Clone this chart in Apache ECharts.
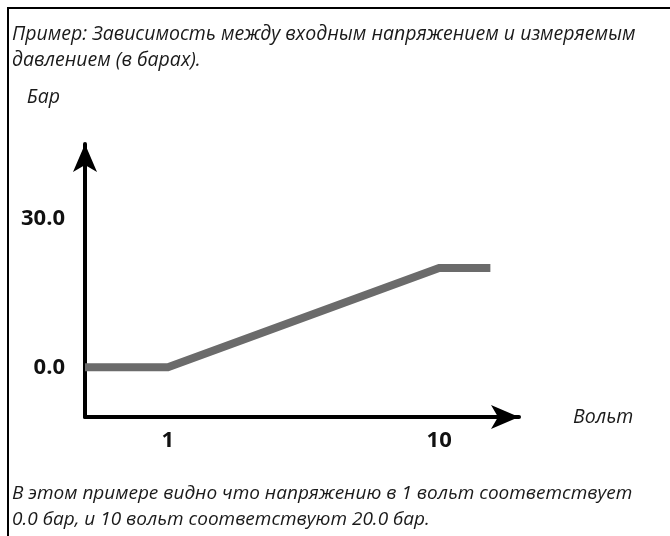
<!DOCTYPE html>
<html>
<head>
<meta charset="utf-8">
<script src="https://cdn.jsdelivr.net/npm/echarts@6/dist/echarts.min.js"></script>
<style>
  html, body { margin: 0; padding: 0; background: #fff; }
  #chart { width: 670px; height: 536px; }
</style>
</head>
<body>
<div id="chart"></div>
<script>
// Input voltage (V) against measured pressure (bar)
const voltage = [-1.75, 1, 10, 11.7];
const pressure = [0, 0, 20, 20];
const xTicks = [1, 10];
const yTicks = [0, 30];

const captionTop = 'Пример: Зависимость между входным напряжением и измеряемым\nдавлением (в барах).';
const captionBottom = 'В этом примере видно что напряжению в 1 вольт соответствует\n0.0 бар, и 10 вольт соответствуют 20.0 бар.';
const xName = 'Вольт';
const yName = 'Бар';

const textFont = 'Open Sans';
const captionStyle = {
  fontFamily: textFont, fontStyle: 'italic', fontWeight: 'normal',
  fontSize: 19.5, lineHeight: 26, color: '#1a1a1a'
};
const tickStyle = {
  fontFamily: textFont, fontWeight: 'bold', fontSize: 22, color: '#111'
};

const chart = echarts.init(document.getElementById('chart'), null, { renderer: 'canvas' });

chart.setOption({
  animation: false,
  backgroundColor: '#fff',
  title: [
    { text: captionTop, left: 12, top: 21, padding: 0, textStyle: captionStyle },
    { text: captionBottom, left: 12, top: 481, padding: 0,
      textStyle: Object.assign({}, captionStyle, { fontSize: 19 }) }
  ],
  graphic: [{
    type: 'rect',
    shape: { x: 8, y: 8, width: 700, height: 600 },
    style: { fill: 'none', stroke: '#000', lineWidth: 2 },
    silent: true
  }],
  grid: { left: 85, top: 144, width: 434, height: 273, containLabel: false },
  xAxis: {
    type: 'value',
    min: -1.75, max: 12.65,
    name: xName,
    nameLocation: 'end',
    nameGap: 54,
    nameTextStyle: Object.assign({}, captionStyle, { padding: [0, 0, 22, 0] }),
    axisLine: {
      show: true, onZero: false,
      symbol: ['none', 'arrow'], symbolSize: [18, 28],
      lineStyle: { color: '#000', width: 4 }
    },
    axisTick: { show: false },
    splitLine: { show: false },
    axisLabel: Object.assign({
      customValues: xTicks,
      margin: 13,
      formatter: v => String(v)
    }, tickStyle)
  },
  yAxis: {
    type: 'value',
    min: -10, max: 45,
    name: yName,
    nameLocation: 'end',
    nameGap: 34,
    nameTextStyle: Object.assign({}, captionStyle, { align: 'right', padding: [0, 25, 0, 0] }),
    axisLine: {
      show: true, onZero: false,
      symbol: ['none', 'arrow'], symbolSize: [18, 28],
      lineStyle: { color: '#000', width: 4 }
    },
    axisTick: { show: false },
    splitLine: { show: false },
    axisLabel: Object.assign({
      customValues: yTicks,
      margin: 20,
      formatter: v => v.toFixed(1)
    }, tickStyle)
  },
  series: [{
    type: 'line',
    data: voltage.map((v, i) => [v, pressure[i]]),
    symbol: 'none',
    z: 1,
    lineStyle: { color: '#6b6b6b', width: 8, cap: 'butt', join: 'miter' }
  }]
});
</script>
</body>
</html>
